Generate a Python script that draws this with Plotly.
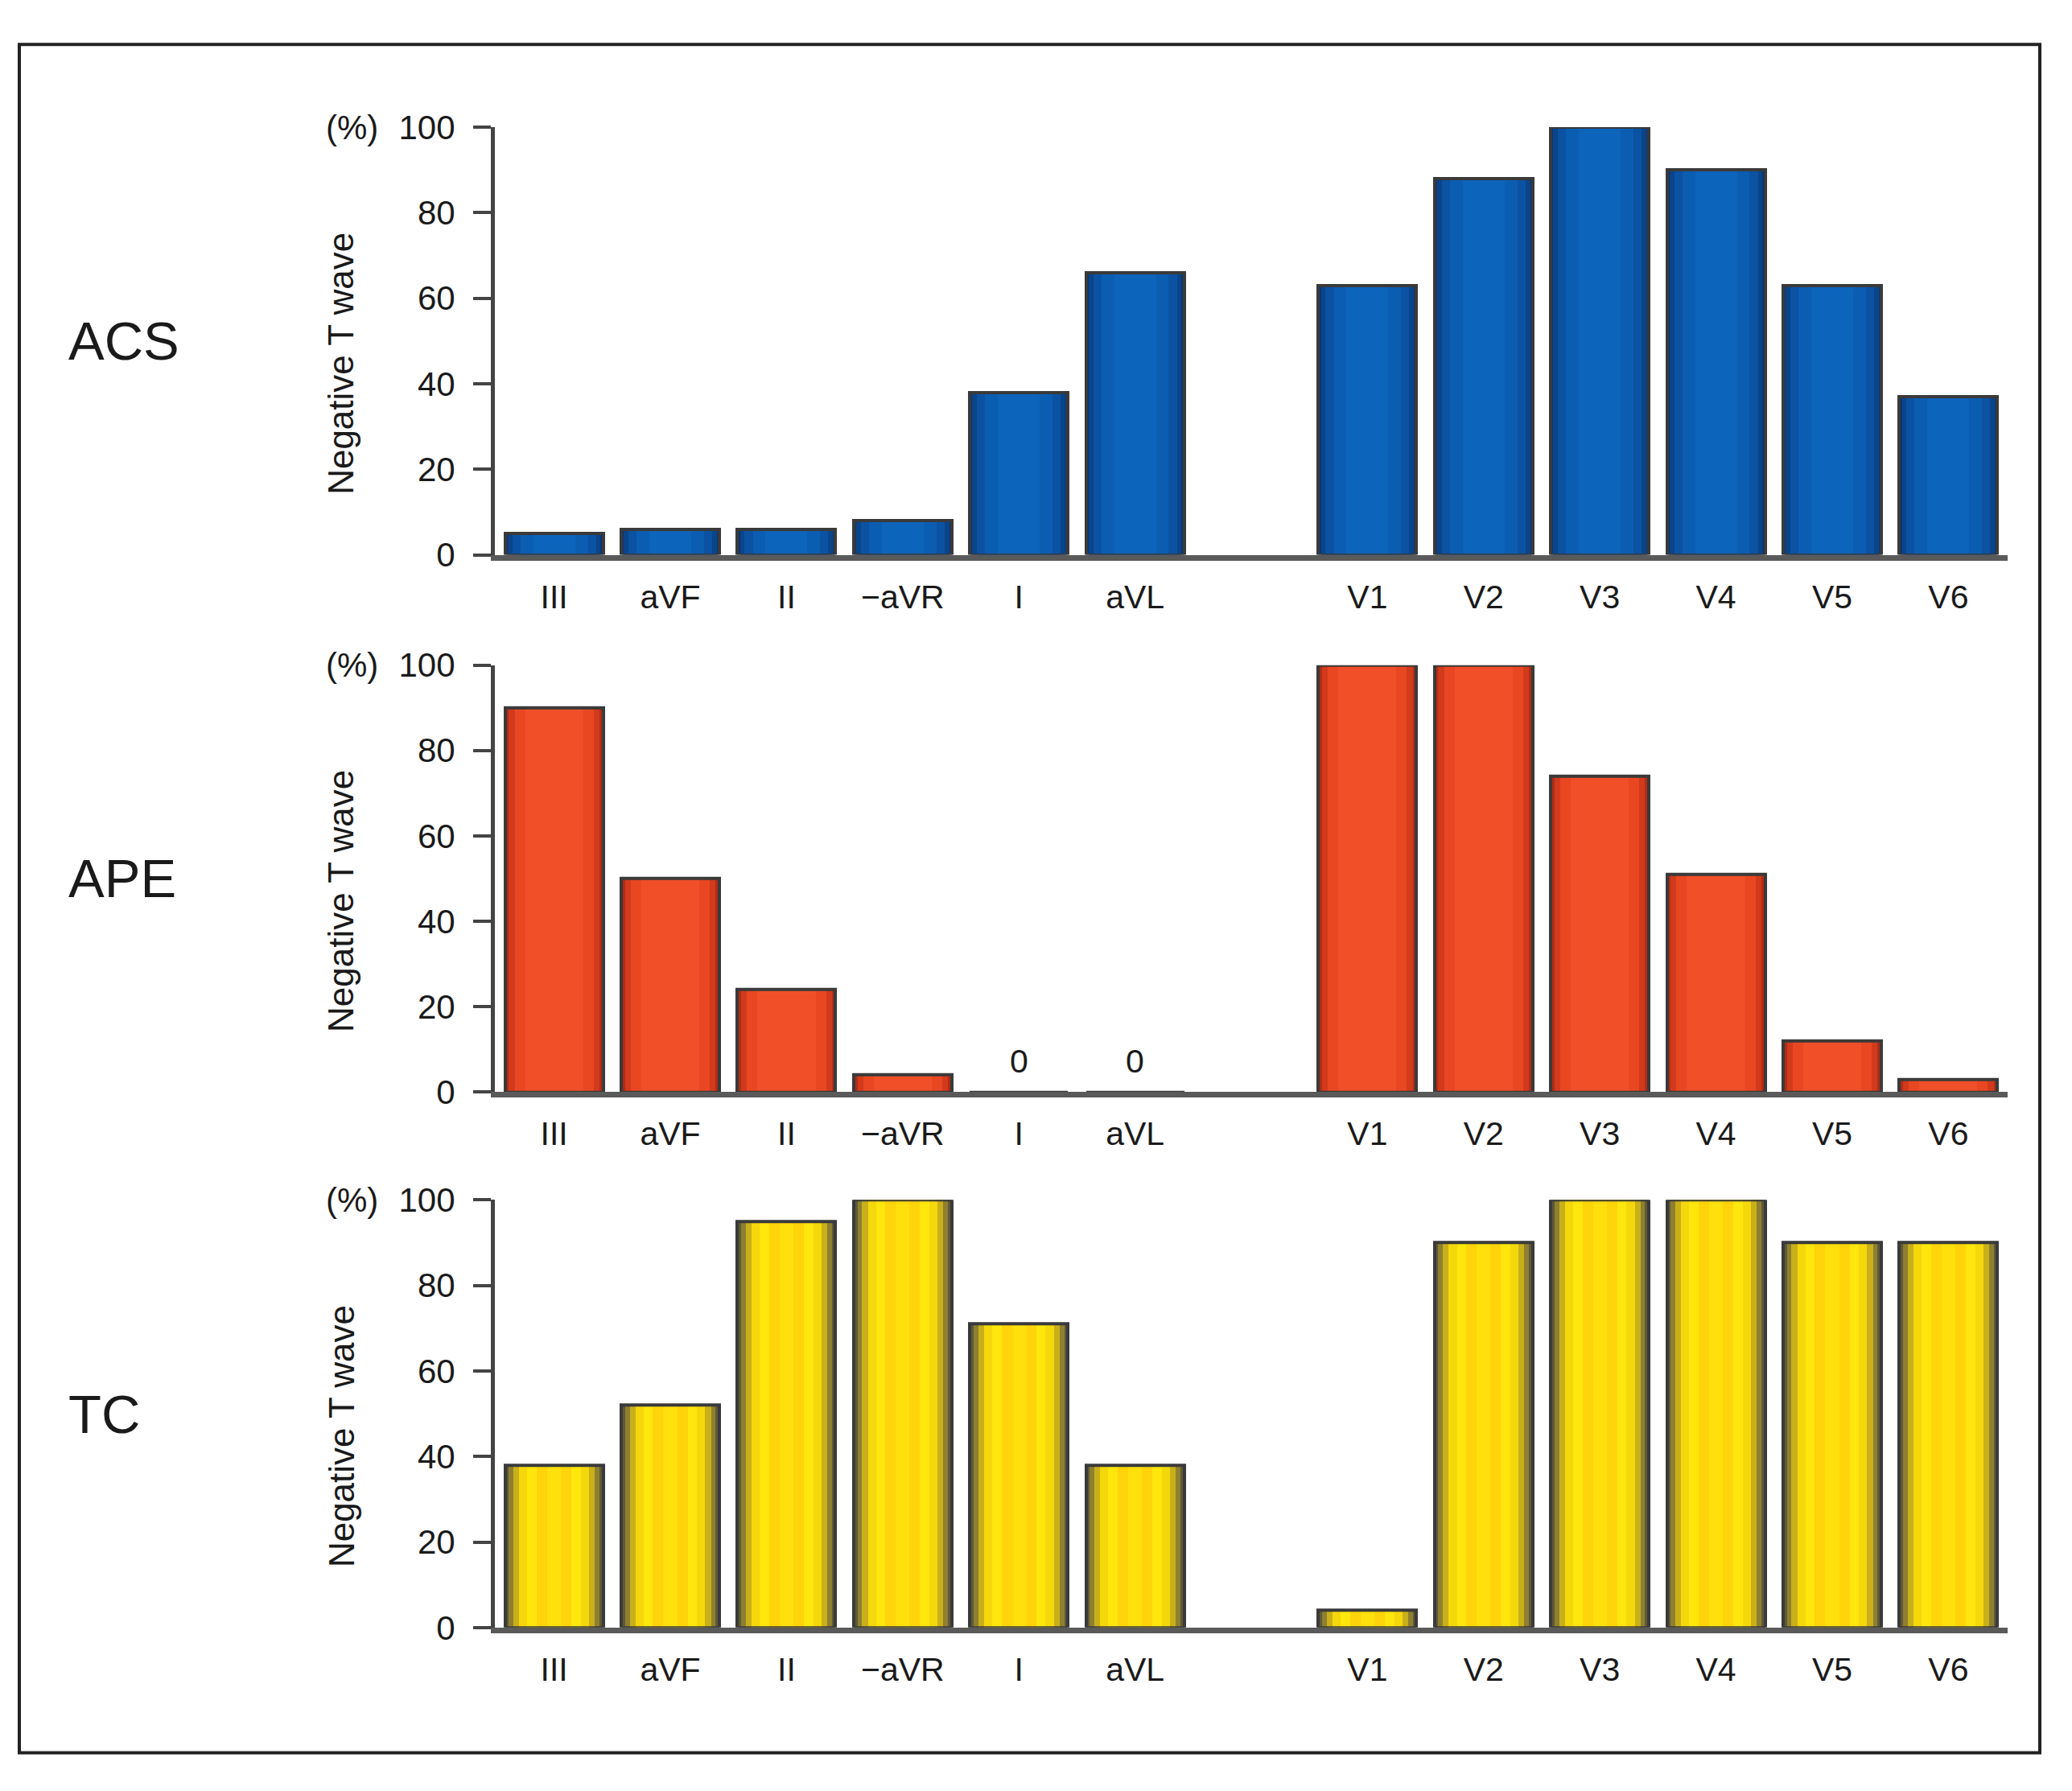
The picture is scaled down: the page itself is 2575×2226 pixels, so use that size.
import plotly.graph_objects as go

# leads in display order (a blank slot separates limb and chest leads)
limb_leads = ["III", "aVF", "II", "−aVR", "I", "aVL"]
chest_leads = ["V1", "V2", "V3", "V4", "V5", "V6"]

# % of patients with negative T wave per lead
acs = [5, 6, 6, 8, 38, 66, 63, 88, 100, 90, 63, 37]
ape = [90, 50, 24, 4, 0, 0, 100, 100, 74, 51, 12, 3]
tc = [38, 52, 95, 100, 71, 38, 4, 90, 100, 100, 90, 90]

groups = ["ACS", "APE", "TC"]
y_ticks = [0, 20, 40, 60, 80, 100]

W, H = 2575, 2226
FONT = "Liberation Sans, Arial, sans-serif"
INK = "#1a1a1a"

leads = limb_leads + chest_leads
xpos = list(range(len(limb_leads))) + [len(limb_leads) + 1 + i for i in range(len(chest_leads))]

# pixel layout of each panel: (y of 100, y of 0)
panel_px = [(138, 681), (821, 1363), (1500, 2043)]
x_left, x_right = 615, 2495

# cylinder-like shading: stacked bars of decreasing width
shades = {
    "ACS": [(0.845, "#0a3670"), (0.8, "#0a448a"), (0.72, "#0b52a2"), (0.58, "#0b5db2"), (0.36, "#0d64bb")],
    "APE": [(0.845, "#b02c16"), (0.78, "#d23a1c"), (0.68, "#e94722"), (0.5, "#f14f27")],
    "TC": [(0.845, "#5f5a36"), (0.78, "#8e8030"), (0.7, "#c9b01a"), (0.6, "#f4d80c"),
           (0.46, "#ffe60c"), (0.3, "#ffd40a"), (0.12, "#ffdf0c")],
}

fig = go.Figure()
series = [acs, ape, tc]

for i, (name, vals) in enumerate(zip(groups, series)):
    n = "" if i == 0 else str(i + 1)
    xa, ya = "x" + n, "y" + n
    for w, c in shades[name]:
        fig.add_trace(go.Bar(x=xpos, y=vals, width=w, xaxis=xa, yaxis=ya,
                             marker=dict(color=c, line=dict(width=0)),
                             showlegend=False, hoverinfo="skip"))
    fig.add_trace(go.Bar(x=xpos, y=vals, width=0.845, xaxis=xa, yaxis=ya, name=name,
                         marker=dict(color="rgba(0,0,0,0)", line=dict(color="#3a3a3a", width=4)),
                         showlegend=False, customdata=leads,
                         hovertemplate="%{customdata}: %{y}%<extra>" + name + "</extra>"))

    top, bot = panel_px[i]
    dom = [1 - bot / H, 1 - top / H]
    fig.update_layout({
        "xaxis" + n: dict(domain=[x_left / W, x_right / W], range=[-0.51, 12.51],
                          tickvals=xpos, ticktext=leads, ticks="", showgrid=False,
                          zeroline=False, showline=True, linecolor="#5a5a5a", linewidth=7,
                          ticklabelstandoff=10, anchor=ya,
                          tickfont=dict(family=FONT, size=41, color=INK)),
        "yaxis" + n: dict(domain=dom, range=[0, 100], tickvals=y_ticks, showgrid=False,
                          zeroline=False, showline=True, linecolor="#444444", linewidth=5,
                          ticks="outside", ticklen=22, tickwidth=4, tickcolor="#444444",
                          ticklabelstandoff=14, anchor=xa,
                          tickfont=dict(family=FONT, size=42, color=INK)),
    })

    mid = 1 - (top + bot) / 2 / H
    fig.add_annotation(text=name, xref="paper", yref="paper", x=83 / W, y=mid,
                       xanchor="left", yanchor="middle", showarrow=False,
                       font=dict(family=FONT, size=67, color=INK))
    fig.add_annotation(text="Negative T wave", xref="paper", yref="paper", x=424 / W, y=mid,
                       yshift=-28, textangle=-90, xanchor="center", yanchor="middle",
                       showarrow=False, font=dict(family=FONT, size=44, color=INK))
    fig.add_annotation(text="(%)", xref="paper", yref=ya, x=437 / W, y=100,
                       xanchor="center", yanchor="middle", showarrow=False,
                       font=dict(family=FONT, size=42, color=INK))
    # zero values get a printed "0"
    for xp, v in zip(xpos, vals):
        if v == 0:
            fig.add_annotation(text="0", xref=xa, yref=ya, x=xp, y=0, yshift=38,
                               xanchor="center", yanchor="middle", showarrow=False,
                               font=dict(family=FONT, size=41, color=INK))

# outer frame
fig.add_shape(type="rect", xref="paper", yref="paper",
              x0=24 / W, x1=2535 / W, y0=1 - 2202 / H, y1=1 - 33 / H,
              line=dict(color="#222222", width=4))

fig.update_layout(width=W, height=H, barmode="overlay", bargap=0,
                  margin=dict(l=0, r=0, t=0, b=0),
                  paper_bgcolor="white", plot_bgcolor="white",
                  font=dict(family=FONT, color=INK))

pin_top_left = (
    "document.body.style.margin = '0px';"
    "var d = document.getElementById('{plot_id}');"
    "d.style.position = 'absolute'; d.style.top = '0px'; d.style.left = '0px';"
)
fig.write_html("out.html", config={"displayModeBar": False}, post_script=pin_top_left)
